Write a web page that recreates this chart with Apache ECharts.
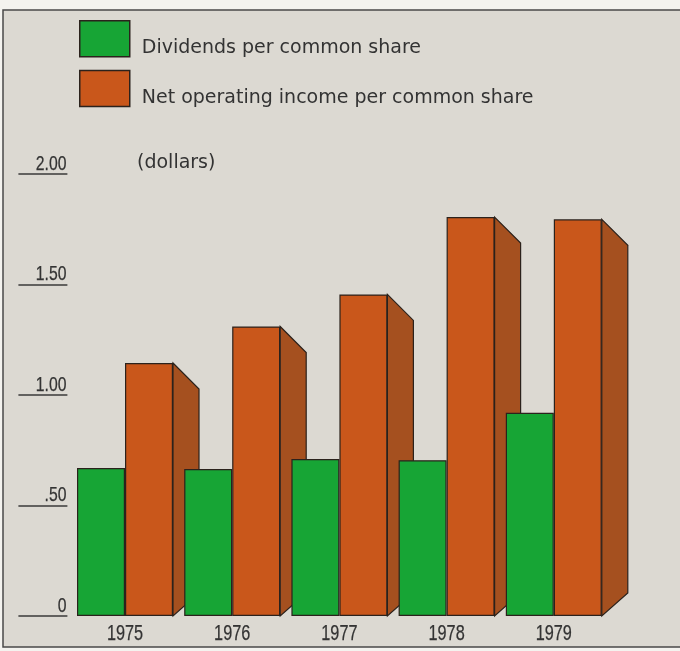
<!DOCTYPE html>
<html>
<head>
<meta charset="utf-8">
<script src="https://cdn.jsdelivr.net/npm/echarts@6/dist/echarts.min.js"></script>
<style>
  html, body { margin: 0; padding: 0; background: #f4f3ef; }
  #chart { width: 680px; height: 651px; }
</style>
</head>
<body>
<div id="chart"></div>
<script>
// Per-share figures, in dollars
const years = ['1975', '1976', '1977', '1978', '1979'];
const dividends = [0.67, 0.665, 0.71, 0.705, 0.92];
const netIncome = [1.145, 1.31, 1.455, 1.805, 1.795];

// Value-axis ticks and how they are printed
const yTickValues = [0, 0.5, 1, 1.5, 2];
const yTickLabels = ['0', '.50', '1.00', '1.50', '2.00'];

const seriesNames = ['Dividends per common share', 'Net operating income per common share'];
const unitLabel = '(dollars)';

const GREEN = '#17a535';
const ORANGE = '#c9571b';
const ORANGE_SIDE = '#a5501f';
const EDGE = '#2b221c';
const INK = '#333';
const BAR_W = 48;
const DEPTH_X = 26, DEPTH_TOP = 26, DEPTH_BOTTOM = 23;
// condensed numerals: a regular sans squeezed horizontally, lightly stroked for weight
const NUM_FONT = '"Liberation Sans", Arial, sans-serif';

function numeralText(x, y, text, size, squeeze, align) {
  return {
    type: 'text',
    x: x, y: y,
    scaleX: squeeze,
    style: {
      text: text, font: size + 'px ' + NUM_FONT,
      fill: '#333', stroke: '#333', lineWidth: 0.25,
      align: align, verticalAlign: 'middle'
    }
  };
}

const chart = echarts.init(document.getElementById('chart'), null, { renderer: 'canvas' });

chart.setOption({
  animation: false,
  backgroundColor: '#f4f3ef',
  graphic: [
    {
      type: 'rect', z: -10, silent: true,
      shape: { x: 3, y: 10, width: 700, height: 637 },
      style: { fill: '#dcd9d2', stroke: '#4a4a4a', lineWidth: 1.5 }
    },
    {
      type: 'text', left: 137, top: 154,
      style: { text: unitLabel, font: '19px "DejaVu Sans"', fill: INK }
    }
  ],
  legend: {
    orient: 'vertical',
    left: 79, top: 20,
    padding: 0,
    icon: 'rect',
    itemWidth: 50, itemHeight: 36,
    itemGap: 12,
    itemStyle: { borderColor: EDGE, borderWidth: 1.5 },
    formatter: '{t|{name}}',
    textStyle: {
      fontFamily: 'DejaVu Sans', fontSize: 19, color: INK,
      rich: {
        t: {
          fontFamily: 'DejaVu Sans', fontSize: 19, color: INK,
          padding: [19, 0, 0, 7]
        }
      }
    },
    selectedMode: false,
    data: seriesNames
  },
  grid: { left: 71.4, right: 72.6, top: 174, bottom: 35, outerBoundsMode: 'none' },
  xAxis: {
    type: 'category',
    data: years,
    axisLine: { show: false },
    axisTick: { show: false },
    axisLabel: { show: false }
  },
  yAxis: {
    type: 'value',
    min: 0, max: 2, interval: 0.5,
    offset: 4,
    axisLine: { show: false },
    splitLine: { show: false },
    axisTick: { show: true, length: 49, lineStyle: { color: '#3a3a3a', width: 1.5 } },
    axisLabel: { show: false }
  },
  series: [
    {
      // receding side faces of the income bars, behind the neighbouring green bars
      type: 'custom',
      name: 'side',
      z: 1,
      clip: false,
      silent: true,
      data: netIncome.map((v, i) => [i, v]),
      renderItem: function (params, api) {
        const i = api.value(0), v = api.value(1);
        const top = api.coord([i, v]);
        const base = api.coord([i, 0]);
        const x0 = top[0] + BAR_W;
        return {
          type: 'polygon',
          shape: {
            points: [
              [x0, top[1]],
              [x0 + DEPTH_X, top[1] + DEPTH_TOP],
              [x0 + DEPTH_X, base[1] - DEPTH_BOTTOM],
              [x0, base[1]]
            ]
          },
          style: { fill: ORANGE_SIDE, stroke: EDGE, lineWidth: 1.2 }
        };
      }
    },
    {
      type: 'bar',
      name: seriesNames[0],
      z: 3,
      barWidth: BAR_W,
      barGap: '0%',
      data: dividends,
      itemStyle: { color: GREEN, borderColor: EDGE, borderWidth: 1.2 }
    },
    {
      type: 'bar',
      name: seriesNames[1],
      z: 3,
      barWidth: BAR_W,
      barGap: '0%',
      data: netIncome,
      itemStyle: { color: ORANGE, borderColor: EDGE, borderWidth: 1.2 }
    },
    {
      // year labels under each pair of bars
      type: 'custom',
      name: 'yearLabels',
      z: 4,
      clip: false,
      silent: true,
      data: years.map((y, i) => [i, 0]),
      renderItem: function (params, api) {
        const i = api.value(0);
        const p = api.coord([i, 0]);
        return numeralText(p[0], p[1] + 18, years[i], 22, 0.74, 'center');
      }
    },
    {
      // value labels sitting on the tick rules at the left
      type: 'custom',
      name: 'valueLabels',
      z: 4,
      clip: false,
      silent: true,
      data: yTickValues.map((v, k) => [0, v, k]),
      renderItem: function (params, api) {
        const v = api.value(1), k = api.value(2);
        const p = api.coord([0, v]);
        return numeralText(params.coordSys.x - 5, p[1] - 10, yTickLabels[k], 21, 0.75, 'right');
      }
    }
  ]
});
</script>
</body>
</html>
